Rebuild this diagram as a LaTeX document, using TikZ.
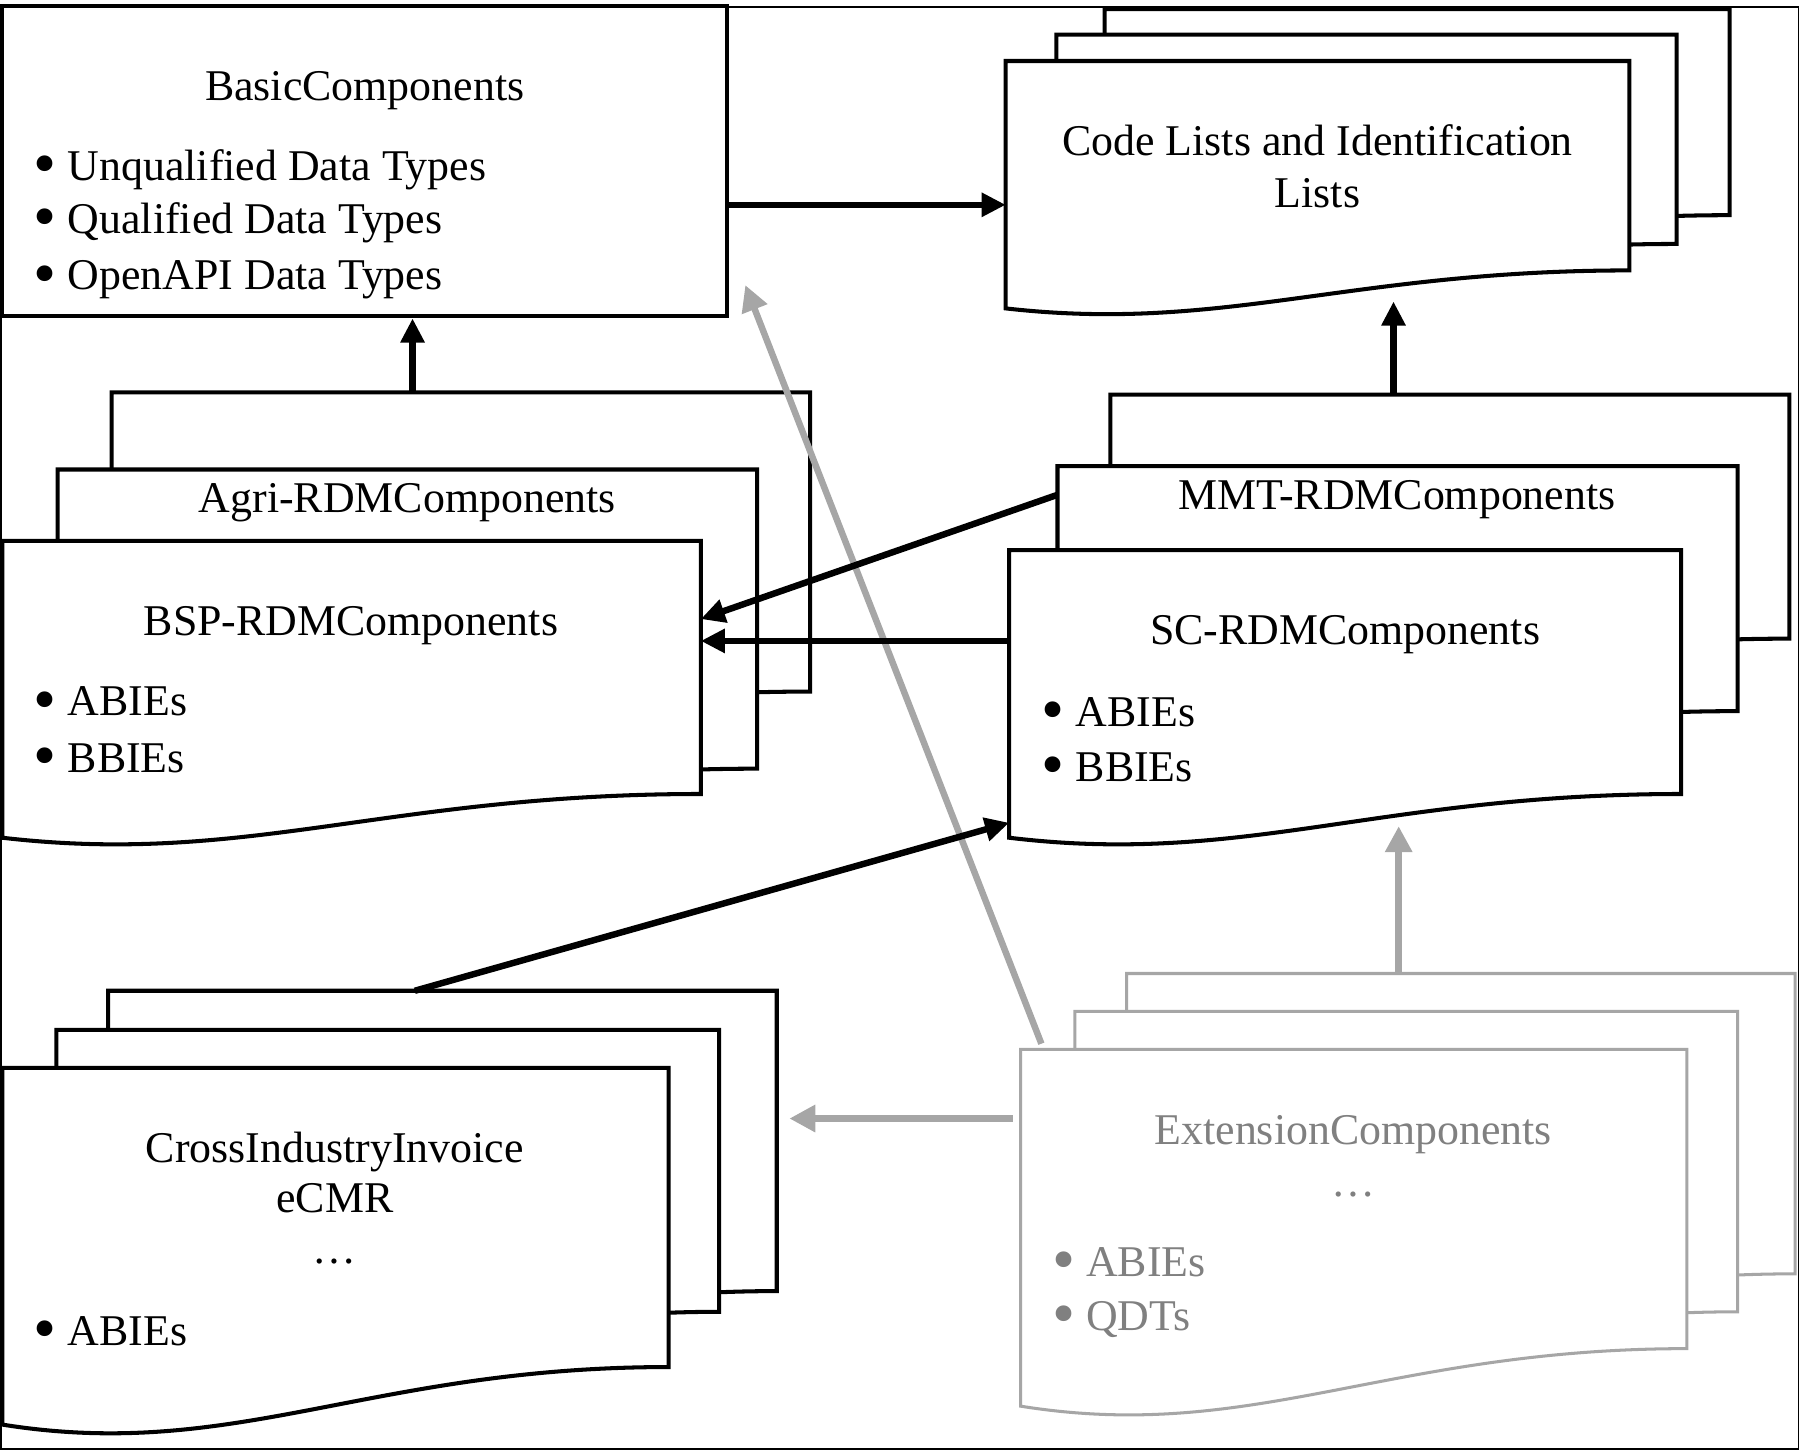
\documentclass[tikz,border=0pt]{standalone}
\usepackage{fontspec}
\setmainfont{Liberation Serif}
\usetikzlibrary{arrows.meta,fit}

\definecolor{extgray}{RGB}{166,166,166}
\definecolor{exttext}{RGB}{128,128,128}

% one sheet of a document stack: [style]{name}{x1}{y1}{x2}{y2}{dip}
\newcommand{\docsheet}[7][]{%
  \draw[sheet,#1] (#3,{#6+#7}) -- (#3,#4) -- (#5,#4) -- (#5,#6)
    .. controls ({#3+0.55*(#5-#3)},#6) and ({#3+0.35*(#5-#3)},{#6+1.65*#7}) .. cycle;
  \node[inner sep=0pt,outer sep=0pt,fit={(#3,#4) (#5,#6)}] (#2) {};
}
\newcommand{\bigbullet}{\raisebox{-0.12em}{\scalebox{1.5}{\textbullet}}\ }

\begin{document}
\begin{tikzpicture}[
x=0.02cm, y=-0.02cm,
frame/.style =
  {draw, line width=0.85pt},
sheet/.style =
  {draw, fill=white, line width=2pt},
greysheet/.style =
  {draw=extgray, line width=1.5pt},
boxnode/.style =
  {rectangle, draw, fill=white,
   line width=2pt,
   minimum width=12.6cm, minimum height=5.4cm},
txt/.style={font=\fontsize{21.7}{26}\selectfont, inner sep=0pt},
greytxt/.style={txt, text=exttext},
link/.style={line width=3.2pt, -{Triangle[length=0.42cm,width=0.4cm]}},
greylink/.style={draw=extgray, line width=3.2pt, -{Triangle[length=0.45cm,width=0.45cm]}}
]
\useasboundingbox (0,0) rectangle (1566,1262);
\draw[frame] (1,6) rectangle (1563,1259);

%Nodes
\node[boxnode] (basic) at (317,140) {};
\node[txt,anchor=base] (basictitle) at (317,87) {BasicComponents};
\node[txt,anchor=base west] (basicudt) at (29,157) {\bigbullet Unqualified Data Types};
\node[txt,anchor=base west] (basicqdt) at (29,203) {\bigbullet Qualified Data Types};
\node[txt,anchor=base west] (basicapi) at (29,252) {\bigbullet OpenAPI Data Types};

% code lists stack
\docsheet{code3}{960}{8}{1503}{187}{33}
\docsheet{code2}{918}{30}{1457}{212}{33}
\docsheet{code1}{874}{53}{1416}{235}{33}
\node[txt,anchor=base] (codetitle) at (1145,135) {Code Lists and Identification};
\node[txt,anchor=base] (codetitle2) at (1145,180) {Lists};

% agri / bsp stack
\docsheet{agri3}{97}{341}{704}{601}{38}
\docsheet{agri2}{50}{408}{658}{668}{38}
\docsheet{bsp1}{2}{470}{609}{690}{38}
\node[txt,anchor=base] (agrititle) at (354,445) {Agri-RDMComponents};
\node[txt,anchor=base] (bsptitle) at (305,552) {BSP-RDMComponents};
\node[txt,anchor=base west] (bspabie) at (29,622) {\bigbullet ABIEs};
\node[txt,anchor=base west] (bspbbie) at (29,671) {\bigbullet BBIEs};

% mmt / sc stack
\docsheet{mmt3}{965}{343}{1555}{555}{38}
\docsheet{mmt2}{919}{405}{1510}{618}{38}
\docsheet{sc1}{877}{478}{1461}{690}{38}
\node[txt,anchor=base] (mmttitle) at (1214,443) {MMT-RDMComponents};
\node[txt,anchor=base] (sctitle) at (1169,560) {SC-RDMComponents};
\node[txt,anchor=base west] (scabie) at (905,631) {\bigbullet ABIEs};
\node[txt,anchor=base west] (scbbie) at (905,679) {\bigbullet BBIEs};

% message stack
\docsheet{cii3}{94}{861}{675}{1122}{50}
\docsheet{cii2}{49}{895}{625}{1140}{50}
\docsheet{cii1}{2}{928}{581}{1188}{50}
\node[txt,anchor=base] (ciititle) at (291,1010) {CrossIndustryInvoice};
\node[txt,anchor=base] (ciiecmr) at (291,1054) {eCMR};
\node[txt,anchor=base] (ciidots) at (291,1098) {\ldots};
\node[txt,anchor=base west] (ciiabie) at (29,1169) {\bigbullet ABIEs};

% extension stack
\docsheet[greysheet]{ext3}{979}{846}{1560}{1107}{50}
\docsheet[greysheet]{ext2}{934}{879}{1510}{1140}{50}
\docsheet[greysheet]{ext1}{887}{912}{1466}{1172}{50}
\node[greytxt,anchor=base] (exttitle) at (1176,995) {ExtensionComponents};
\node[greytxt,anchor=base] (extdots) at (1176,1040) {\ldots};
\node[greytxt,anchor=base west] (extabie) at (914,1109) {\bigbullet ABIEs};
\node[greytxt,anchor=base west] (extqdt) at (914,1156) {\bigbullet QDTs};

%Connectors
\coordinate (exttop) at ([xshift=-1.08cm]ext3.north);
\coordinate (scgap) at ([yshift=-0.56cm]sc1.south);
\draw[greylink] (exttop) -- (exttop |- scgap);
\coordinate (extleft) at ([xshift=-0.14cm,yshift=1.4cm]ext1.west);
\coordinate (ciigap) at ([xshift=0.22cm]cii3.east);
\draw[greylink] (extleft) -- (extleft -| ciigap);
\draw[greylink] ([shift={(0.36cm,0.1cm)}]ext1.north west) -- ([shift={(0.28cm,0.58cm)}]basic.south east);

\draw[link] ([yshift=-0.76cm]basic.east) -- ([yshift=-0.76cm]basic.east -| code1.west);
\coordinate (agritop) at ([xshift=-0.84cm]agri3.north);
\draw[link] (agritop) -- (agritop |- basic.south);
\coordinate (mmttop) at ([xshift=-0.98cm]mmt3.north);
\coordinate (codegap) at ([yshift=-0.54cm]code1.south);
\draw[link] (mmttop) -- (mmttop |- codegap);
\draw[link] ([yshift=-0.5cm]mmt2.north west) -- ([yshift=-1.36cm]bsp1.north east);
\coordinate (scleft) at ([yshift=-1.58cm]sc1.north west);
\draw[link] (scleft) -- (scleft -| bsp1.east);
\draw[link] ([xshift=-0.48cm]cii3.north) -- ([yshift=-0.5cm]sc1.south west);
\end{tikzpicture}
\end{document}
